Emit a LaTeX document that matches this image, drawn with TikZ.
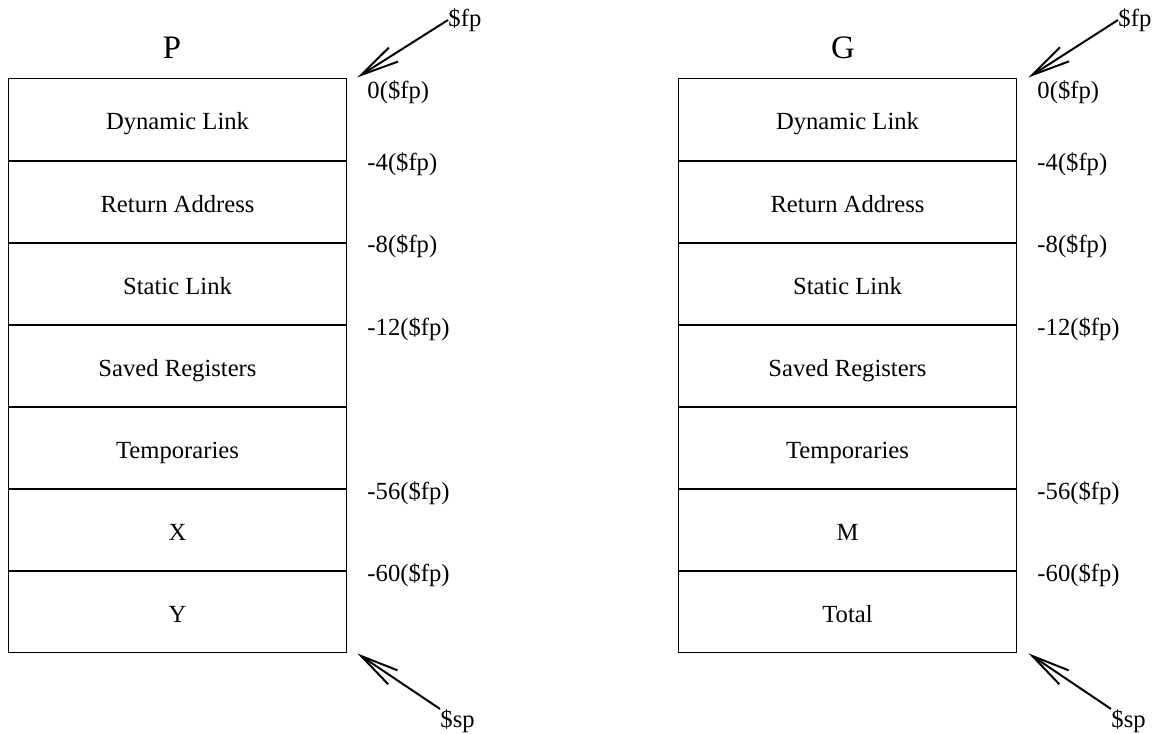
\documentclass[tikz,border=0pt]{standalone}
\usepackage{fontspec}
\setmainfont{Liberation Serif}
\usetikzlibrary{arrows.meta,positioning}

\tikzset{
  cell/.style={draw, minimum width=137.6pt, minimum height=32.95pt, inner sep=0pt,
    text height=8.5pt, text depth=0pt, font=\fontsize{10}{12}\selectfont},
  offs/.style={anchor=west, inner sep=0pt, font=\fontsize{10}{12}\selectfont},
  regname/.style={anchor=west, inner sep=0pt, font=\fontsize{10}{12}\selectfont},
  title/.style={font=\fontsize{13.3}{15}\selectfont},
  ptr/.style={-{Straight Barb[length=15.5pt,width=6.8pt,line width=0.8pt]}, line width=0.8pt}
}

\begin{document}
\begin{tikzpicture}[x=0.406pt, y=-0.406pt]
    \useasboundingbox (0,0) rectangle (1162,734);

    % Frame of P
    \node[title] (titleP) at (172,48) {P};
    \node[cell] (P1) at (177.5,119.5) {Dynamic Link};
    \node[cell, below=0pt of P1] (P2) {Return Address};
    \node[cell, below=0pt of P2] (P3) {Static Link};
    \node[cell, below=0pt of P3] (P4) {Saved Registers};
    \node[cell, below=0pt of P4] (P5) {Temporaries};
    \node[cell, below=0pt of P5] (P6) {X};
    \node[cell, below=0pt of P6] (P7) {Y};

    \node[offs] (offP0) at (367,92) {0(\$fp)};
    \node[offs] (offP4) at (367,164) {-4(\$fp)};
    \node[offs] (offP8) at (367,246) {-8(\$fp)};
    \node[offs] (offP12) at (367,329) {-12(\$fp)};
    \node[offs] (offP56) at (367,493) {-56(\$fp)};
    \node[offs] (offP60) at (367,575) {-60(\$fp)};

    \node[regname] (fpP) at (448,20) {\$fp};
    \node[regname] (spP) at (440,721) {\$sp};
    \coordinate (fpPtip) at ([xshift=4pt,yshift=0.4pt]P1.north east);
    \coordinate (spPtip) at ([xshift=4pt]P7.south east);
    \draw[ptr] (fpP.west) -- (fpPtip);
    \draw[ptr] (spP.north west) -- (spPtip);

    % Frame of G
    \node[title] (titleG) at (843,48) {G};
    \node[cell] (G1) at (847.5,119.5) {Dynamic Link};
    \node[cell, below=0pt of G1] (G2) {Return Address};
    \node[cell, below=0pt of G2] (G3) {Static Link};
    \node[cell, below=0pt of G3] (G4) {Saved Registers};
    \node[cell, below=0pt of G4] (G5) {Temporaries};
    \node[cell, below=0pt of G5] (G6) {M};
    \node[cell, below=0pt of G6] (G7) {Total};

    \node[offs] (offG0) at (1037,92) {0(\$fp)};
    \node[offs] (offG4) at (1037,164) {-4(\$fp)};
    \node[offs] (offG8) at (1037,246) {-8(\$fp)};
    \node[offs] (offG12) at (1037,329) {-12(\$fp)};
    \node[offs] (offG56) at (1037,493) {-56(\$fp)};
    \node[offs] (offG60) at (1037,575) {-60(\$fp)};

    \node[regname] (fpG) at (1118,20) {\$fp};
    \node[regname] (spG) at (1111,721) {\$sp};
    \coordinate (fpGtip) at ([xshift=4.5pt,yshift=0.4pt]G1.north east);
    \coordinate (spGtip) at ([xshift=4.5pt]G7.south east);
    \draw[ptr] (fpG.west) -- (fpGtip);
    \draw[ptr] (spG.north west) -- (spGtip);
\end{tikzpicture}
\end{document}
